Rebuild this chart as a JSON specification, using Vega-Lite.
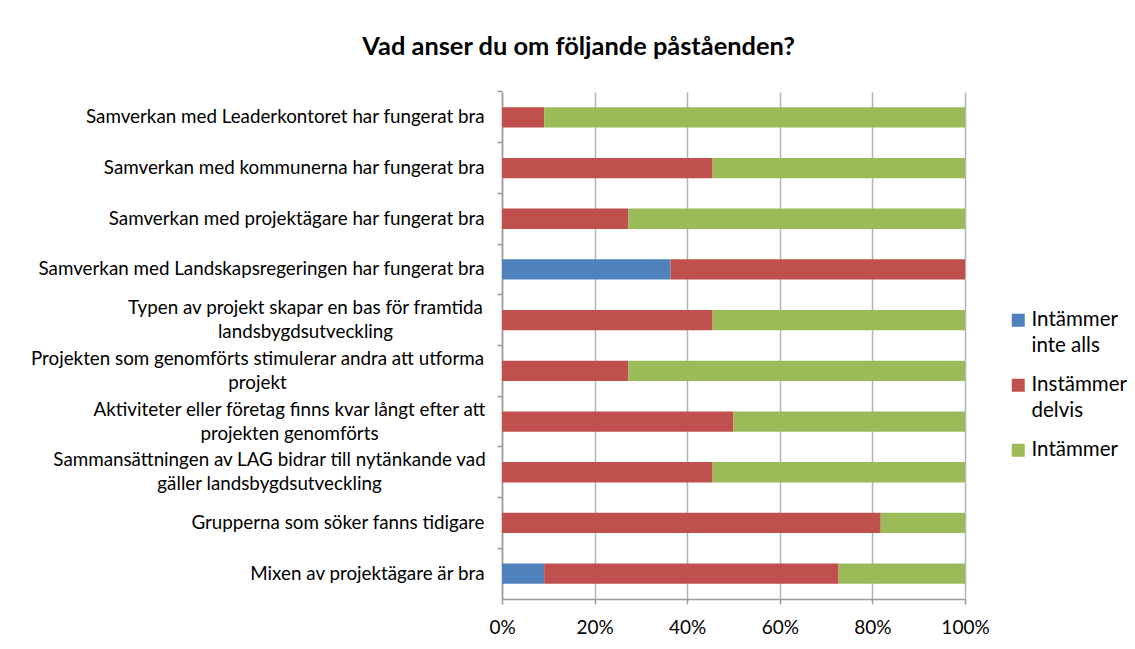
{
  "$schema": "https://vega.github.io/schema/vega-lite/v6.json",
  "width": 463,
  "height": 507,
  "autosize": "none",
  "padding": {"left": 502, "top": 92, "right": 170, "bottom": 50},
  "background": "white",
  "title": {
    "text": "Vad anser du om följande påståenden?",
    "frame": "bounds",
    "anchor": "middle",
    "font": "Lato",
    "fontSize": 25.4,
    "fontWeight": "bold",
    "color": "#000000",
    "offset": 30
  },
  "config": {
    "view": {"stroke": null},
    "font": "Lato",
    "style": {"guide-label": {"lineHeight": 26}}
  },
  "data": {
    "values": [
      {"fraga": "Samverkan med Leaderkontoret har fungerat bra", "svar": "Instämmer delvis", "andel": 9.1},
      {"fraga": "Samverkan med Leaderkontoret har fungerat bra", "svar": "Intämmer", "andel": 90.9},
      {"fraga": "Samverkan med kommunerna har fungerat bra", "svar": "Instämmer delvis", "andel": 45.5},
      {"fraga": "Samverkan med kommunerna har fungerat bra", "svar": "Intämmer", "andel": 54.5},
      {"fraga": "Samverkan med projektägare har fungerat bra", "svar": "Instämmer delvis", "andel": 27.3},
      {"fraga": "Samverkan med projektägare har fungerat bra", "svar": "Intämmer", "andel": 72.7},
      {"fraga": "Samverkan med Landskapsregeringen har fungerat bra", "svar": "Intämmer inte alls", "andel": 36.4},
      {"fraga": "Samverkan med Landskapsregeringen har fungerat bra", "svar": "Instämmer delvis", "andel": 63.6},
      {"fraga": "Typen av projekt skapar en bas för framtida landsbygdsutveckling", "svar": "Instämmer delvis", "andel": 45.5},
      {"fraga": "Typen av projekt skapar en bas för framtida landsbygdsutveckling", "svar": "Intämmer", "andel": 54.5},
      {"fraga": "Projekten som genomförts stimulerar andra att utforma projekt", "svar": "Instämmer delvis", "andel": 27.3},
      {"fraga": "Projekten som genomförts stimulerar andra att utforma projekt", "svar": "Intämmer", "andel": 72.7},
      {"fraga": "Aktiviteter eller företag finns kvar långt efter att projekten genomförts", "svar": "Instämmer delvis", "andel": 50},
      {"fraga": "Aktiviteter eller företag finns kvar långt efter att projekten genomförts", "svar": "Intämmer", "andel": 50},
      {"fraga": "Sammansättningen av LAG bidrar till nytänkande vad gäller landsbygdsutveckling", "svar": "Instämmer delvis", "andel": 45.5},
      {"fraga": "Sammansättningen av LAG bidrar till nytänkande vad gäller landsbygdsutveckling", "svar": "Intämmer", "andel": 54.5},
      {"fraga": "Grupperna som söker fanns tidigare", "svar": "Instämmer delvis", "andel": 81.8},
      {"fraga": "Grupperna som söker fanns tidigare", "svar": "Intämmer", "andel": 18.2},
      {"fraga": "Mixen av projektägare är bra", "svar": "Intämmer inte alls", "andel": 9.1},
      {"fraga": "Mixen av projektägare är bra", "svar": "Instämmer delvis", "andel": 63.6},
      {"fraga": "Mixen av projektägare är bra", "svar": "Intämmer", "andel": 27.3}
    ]
  },
  "transform": [
    {"calculate": "indexof(['Intämmer inte alls', 'Instämmer delvis', 'Intämmer'], datum.svar)", "as": "ordning"}
  ],
  "mark": {"type": "bar"},
  "encoding": {
    "y": {
      "field": "fraga",
      "type": "nominal",
      "sort": null,
      "scale": {"paddingInner": 0.6, "paddingOuter": 0.3},
      "axis": {
        "title": null,
        "bandPosition": -0.75,
        "domainColor": "#9a9a9a",
        "domainWidth": 1.5,
        "tickColor": "#9a9a9a",
        "tickWidth": 1.5,
        "tickSize": 5,
        "labelFont": "Lato",
        "labelFontSize": 18.8,
        "labelColor": "#000000",
        "labelLimit": 600,
        "labelLineHeight": 24,
        "labelBaseline": "middle",
        "labelAlign": {
          "condition": {"test": "indexof(datum.value, 'Typen') == 0 || indexof(datum.value, 'Projekten') == 0 || indexof(datum.value, 'Aktiviteter') == 0 || indexof(datum.value, 'Sammansättningen') == 0", "value": "center"},
          "value": "right"
        },
        "labelOffset": {
          "condition": {"test": "indexof(datum.value, 'Typen') == 0 || indexof(datum.value, 'Projekten') == 0 || indexof(datum.value, 'Aktiviteter') == 0 || indexof(datum.value, 'Sammansättningen') == 0", "value": -12},
          "value": 0
        },
        "labelPadding": {
          "condition": [
            {"test": "indexof(datum.value, 'Typen') == 0", "value": 192},
            {"test": "indexof(datum.value, 'Projekten') == 0", "value": 240},
            {"test": "indexof(datum.value, 'Aktiviteter') == 0", "value": 208},
            {"test": "indexof(datum.value, 'Sammansättningen') == 0", "value": 228}
          ],
          "value": 13
        },
        "labelExpr": "indexof(datum.value, 'Typen') == 0 ? ['Typen av projekt skapar en bas för framtida', 'landsbygdsutveckling'] : indexof(datum.value, 'Projekten') == 0 ? ['Projekten som genomförts stimulerar andra att utforma', 'projekt'] : indexof(datum.value, 'Aktiviteter') == 0 ? ['Aktiviteter eller företag finns kvar långt efter att', 'projekten genomförts'] : indexof(datum.value, 'Sammansättningen') == 0 ? ['Sammansättningen av LAG bidrar till nytänkande vad', 'gäller landsbygdsutveckling'] : datum.value"
      }
    },
    "x": {
      "field": "andel",
      "type": "quantitative",
      "stack": "normalize",
      "scale": {"domain": [0, 1], "nice": false},
      "axis": {
        "title": null,
        "values": [0, 0.2, 0.4, 0.6, 0.8, 1],
        "format": ".0%",
        "grid": true,
        "gridColor": "#b4b4b4",
        "gridWidth": 1.5,
        "domainColor": "#9a9a9a",
        "domainWidth": 1.5,
        "tickColor": "#9a9a9a",
        "tickWidth": 1.5,
        "tickSize": 5,
        "labelFont": "Lato",
        "labelFontSize": 19,
        "labelColor": "#000000",
        "labelPadding": 14,
        "labelFlush": false
      }
    },
    "order": {"field": "ordning", "type": "quantitative", "sort": "ascending"},
    "color": {
      "field": "svar",
      "type": "nominal",
      "sort": ["Intämmer inte alls", "Instämmer delvis", "Intämmer"],
      "scale": {
        "domain": ["Intämmer inte alls", "Instämmer delvis", "Intämmer"],
        "range": ["#4F81BD", "#C0504D", "#9BBB59"]
      },
      "legend": {
        "title": null,
        "orient": "none",
        "legendX": 506,
        "legendY": 218,
        "symbolType": "square",
        "symbolSize": 169,
        "symbolStrokeWidth": 0,
        "symbolOpacity": 1,
        "labelFont": "Lato",
        "labelFontSize": 20.5,
        "labelColor": "#000000",
        "labelLimit": 200,
        "labelOffset": 3,
        "rowPadding": 18,
        "labelExpr": "datum.label == 'Intämmer inte alls' ? ['Intämmer', 'inte alls'] : datum.label == 'Instämmer delvis' ? ['Instämmer', 'delvis'] : datum.label"
      }
    }
  }
}
